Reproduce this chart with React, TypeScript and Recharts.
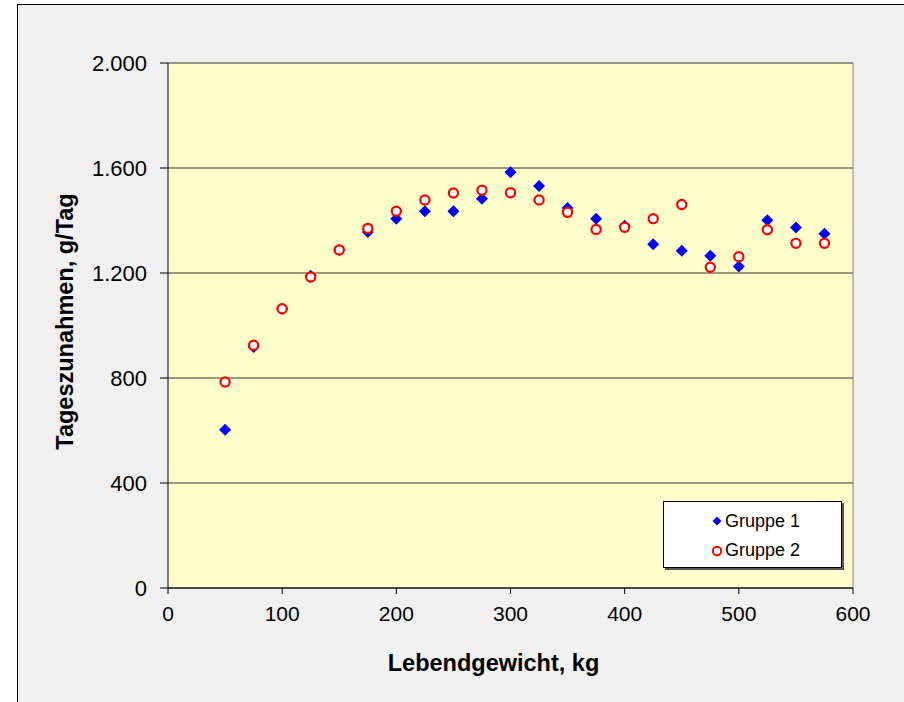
import { ScatterChart, Scatter, XAxis, YAxis, CartesianGrid, Legend, ReferenceLine } from 'recharts'

const weights = [50, 75, 100, 125, 150, 175, 200, 225, 250, 275, 300, 325, 350, 375, 400, 425, 450, 475, 500, 525, 550, 575]
const gruppe1 = [603, 918, 1064, 1190, 1288, 1356, 1407, 1435, 1435, 1483, 1584, 1531, 1448, 1407, 1380, 1310, 1285, 1266, 1225, 1401, 1373, 1350]
const gruppe2 = [785, 925, 1064, 1185, 1288, 1370, 1435, 1478, 1505, 1515, 1506, 1478, 1431, 1366, 1374, 1407, 1461, 1222, 1262, 1365, 1313, 1313]
const xTicks = [0, 100, 200, 300, 400, 500, 600]
const yTicks = [0, 400, 800, 1200, 1600, 2000]

const data1 = weights.map((w, i) => ({ x: w, y: gruppe1[i] }))
const data2 = weights.map((w, i) => ({ x: w, y: gruppe2[i] }))

const font = '"Liberation Sans", Arial, sans-serif'

const fmt = (v: number) =>
  v >= 1000 ? `${Math.floor(v / 1000)}.${String(v % 1000).padStart(3, '0')}` : String(v)

const Diamond = (props: any) => {
  const { cx, cy } = props
  const s = 6
  return <polygon points={`${cx},${cy - s} ${cx + s},${cy} ${cx},${cy + s} ${cx - s},${cy}`} fill="#0000ff" />
}

const Ring = (props: any) => {
  const { cx, cy } = props
  return <circle cx={cx} cy={cy} r={4.6} fill="#ffffff" stroke="#ff0000" strokeWidth={2.2} />
}

const renderLegend = () => (
  <div
    style={{
      width: 179,
      height: 67,
      background: '#fff',
      border: '1px solid #000',
      boxShadow: '2px 2px 0 #555',
      fontFamily: font,
      fontSize: 18,
      color: '#000',
      boxSizing: 'border-box',
      paddingTop: 5,
    }}
  >
    <div style={{ display: 'flex', alignItems: 'center', height: 28, paddingLeft: 47 }}>
      <svg width={12} height={12} style={{ marginRight: 2 }}>
        <polygon points="6,1.5 10.5,6 6,10.5 1.5,6" fill="#0000ff" />
      </svg>
      Gruppe 1
    </div>
    <div style={{ display: 'flex', alignItems: 'center', height: 31, paddingLeft: 47 }}>
      <svg width={12} height={12} style={{ marginRight: 2 }}>
        <circle cx={6} cy={6} r={4.2} fill="#fff" stroke="#ff0000" strokeWidth={2} />
      </svg>
      Gruppe 2
    </div>
  </div>
)

export default function App() {
  return (
    <div style={{ position: 'fixed', left: 0, top: 0, width: 904, height: 702, background: '#fff', overflow: 'hidden' }}>
      <div
        style={{
          position: 'absolute',
          left: 17,
          top: 4,
          width: 904,
          height: 720,
          background: '#f0f0f0',
          borderLeft: '1px solid #000',
          borderTop: '1px solid #000',
        }}
      />
      <div style={{ position: 'absolute', left: 0, top: 0 }}>
        <ScatterChart
          width={904}
          height={702}
          margin={{ top: 63, right: 51, bottom: 0, left: 0 }}
          style={{ fontFamily: font }}
        >
          <CartesianGrid vertical={false} stroke="#333" fill="#ffffcc" fillOpacity={1} />
          <XAxis
            type="number"
            dataKey="x"
            domain={[0, 600]}
            ticks={xTicks}
            height={114}
            tickSize={6}
            tickMargin={12}
            stroke="#000"
            tick={{ fill: '#000', fontSize: 21 }}
            label={{
              content: ({ viewBox }: any) => (
                <text
                  x={viewBox.x + viewBox.width / 2 - 17}
                  y={671}
                  textAnchor="middle"
                  fontSize={23.5}
                  fontWeight="bold"
                  fill="#000"
                  fontFamily={font}
                >
                  Lebendgewicht, kg
                </text>
              ),
            }}
          />
          <YAxis
            type="number"
            dataKey="y"
            domain={[0, 2000]}
            ticks={yTicks}
            width={168}
            tickSize={8}
            tickMargin={13}
            stroke="#000"
            tickFormatter={fmt}
            tick={{ fill: '#000', fontSize: 22 }}
            label={{
              content: ({ viewBox }: any) => {
                const cx = 65
                const cy = viewBox.y + viewBox.height / 2 - 4
                return (
                  <text
                    x={cx}
                    y={cy}
                    transform={`rotate(-90 ${cx} ${cy})`}
                    textAnchor="middle"
                    dominantBaseline="central"
                    fontSize={23.5}
                    fontWeight="bold"
                    fill="#000"
                    fontFamily={font}
                  >
                    Tageszunahmen, g/Tag
                  </text>
                )
              },
            }}
          />
          <ReferenceLine x={600} stroke="#808080" />
          <Scatter name="Gruppe 1" data={data1} shape={Diamond} isAnimationActive={false} />
          <Scatter name="Gruppe 2" data={data2} shape={Ring} isAnimationActive={false} />
          <Legend
            layout="vertical"
            align="center"
            verticalAlign="middle"
            content={renderLegend}
            wrapperStyle={{ position: 'absolute', left: 663, top: 501, width: 181, height: 69 }}
          />
        </ScatterChart>
      </div>
    </div>
  )
}
